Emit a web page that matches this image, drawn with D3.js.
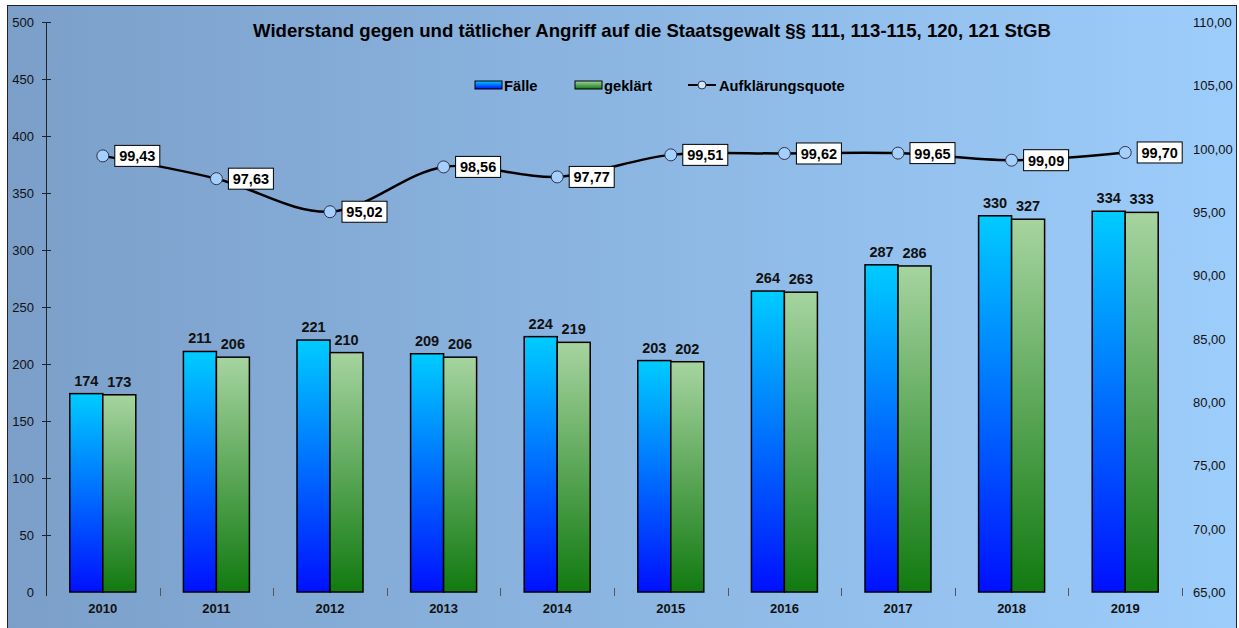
<!DOCTYPE html>
<html>
<head>
<meta charset="utf-8">
<script src="https://cdn.jsdelivr.net/npm/d3@7"></script>
<style>
  body { margin: 0; background: #fff; }
  svg { display: block; font-family: Arial, "Liberation Sans", sans-serif; }
</style>
</head>
<body>
<svg id="canvas" width="1239" height="628"></svg>
<script>
// chart data
let years = ["2010", "2011", "2012", "2013", "2014", "2015", "2016", "2017", "2018", "2019"];
let faelle = [174, 211, 221, 209, 224, 203, 264, 287, 330, 334];
let geklaert = [173, 206, 210, 206, 219, 202, 263, 286, 327, 333];
let quote = [99.43, 97.63, 95.02, 98.56, 97.77, 99.51, 99.62, 99.65, 99.09, 99.70];
let leftTicks = [0, 50, 100, 150, 200, 250, 300, 350, 400, 450, 500];
let rightTicks = [65, 70, 75, 80, 85, 90, 95, 100, 105, 110];

let canvas = d3.select("#canvas");

let plotLeft = 46, plotRight = 1182, plotTop = 22, plotBottom = 592;

let xScale = d3.scaleBand().domain(years).range([plotLeft, plotRight]);
let yLeft = d3.scaleLinear().domain([0, 500]).range([plotBottom, plotTop]);
let yRight = d3.scaleLinear().domain([65, 110]).range([plotBottom, plotTop]);

let fmt = v => d3.format(".2f")(v).replace(".", ",");

// gradients
let defs = canvas.append("defs");
let bg = defs.append("linearGradient").attr("id", "bg").attr("x1", 0).attr("x2", 1).attr("y1", 0).attr("y2", 0);
bg.append("stop").attr("offset", 0).attr("stop-color", "#7b9fc9");
bg.append("stop").attr("offset", 1).attr("stop-color", "#9dcdfb");

let gBlue = defs.append("linearGradient").attr("id", "gBlue").attr("x1", 0).attr("x2", 0).attr("y1", 0).attr("y2", 1);
gBlue.append("stop").attr("offset", 0).attr("stop-color", "#00ccff");
gBlue.append("stop").attr("offset", 1).attr("stop-color", "#0010ff");

let gGreen = defs.append("linearGradient").attr("id", "gGreen").attr("x1", 0).attr("x2", 0).attr("y1", 0).attr("y2", 1);
gGreen.append("stop").attr("offset", 0).attr("stop-color", "#a6d4a0");
gGreen.append("stop").attr("offset", 1).attr("stop-color", "#117a10");

// background + frame
canvas.append("rect")
    .attr("x", 7.5).attr("y", 5.5)
    .attr("width", 1229).attr("height", 630)
    .attr("fill", "url(#bg)")
    .attr("stroke", "#222").attr("stroke-width", 1);

// title
canvas.append("text")
    .attr("x", 652).attr("y", 37)
    .attr("text-anchor", "middle")
    .style("font-size", "18.6px").style("font-weight", "bold")
    .text("Widerstand gegen und tätlicher Angriff auf die Staatsgewalt §§ 111, 113-115, 120, 121 StGB");

// left axis
let leftAxis = d3.axisLeft(yLeft).tickValues(leftTicks).tickSize(0).tickPadding(12);
let gl = canvas.append("g").attr("transform", `translate(${plotLeft},0)`).call(leftAxis);
gl.select(".domain").remove();
gl.selectAll("text").style("font-size", "13px").attr("fill", "#111");
canvas.append("line")
    .attr("x1", plotLeft + 0.5).attr("x2", plotLeft + 0.5)
    .attr("y1", plotTop).attr("y2", plotBottom + 4)
    .attr("stroke", "#222");
canvas.append("g").selectAll("line")
    .data(leftTicks.filter(d => d > 0))
    .enter()
    .append("line")
    .attr("x1", plotLeft - 4).attr("x2", plotLeft + 5)
    .attr("y1", d => Math.round(yLeft(d)) + 0.5)
    .attr("y2", d => Math.round(yLeft(d)) + 0.5)
    .attr("stroke", "#222");

// right axis (labels only)
canvas.append("g").selectAll("text")
    .data(rightTicks)
    .enter()
    .append("text")
    .attr("x", 1193)
    .attr("y", d => yRight(d) + 5)
    .style("font-size", "13px")
    .attr("fill", "#111")
    .text(d => fmt(d));

// category axis: ticks between groups, labels
let boundaries = years.map(d => xScale(d)).concat([plotRight]).slice(1);
canvas.append("g").selectAll("line")
    .data(boundaries)
    .enter()
    .append("line")
    .attr("x1", d => Math.round(d) + 0.5).attr("x2", d => Math.round(d) + 0.5)
    .attr("y1", plotBottom - 4).attr("y2", plotBottom + 4)
    .attr("stroke", "#555");

canvas.append("g").selectAll("text")
    .data(years)
    .enter()
    .append("text")
    .attr("x", d => xScale(d) + xScale.bandwidth() / 2)
    .attr("y", 613)
    .attr("text-anchor", "middle")
    .style("font-size", "13px").style("font-weight", "bold")
    .attr("fill", "#111")
    .text(d => d);

// bars
let barW = 33;
let bars = canvas.append("g");
let series = [
    { values: faelle, fill: "url(#gBlue)", offset: -barW },
    { values: geklaert, fill: "url(#gGreen)", offset: 0 }
];
series.forEach(s => {
    bars.append("g").selectAll("rect")
        .data(s.values)
        .enter()
        .append("rect")
        .attr("x", (d, i) => xScale(years[i]) + xScale.bandwidth() / 2 + s.offset)
        .attr("y", d => yLeft(d))
        .attr("width", barW)
        .attr("height", d => plotBottom - yLeft(d))
        .attr("fill", s.fill)
        .attr("stroke", "#000").attr("stroke-width", 1.5);

    bars.append("g").selectAll("text")
        .data(s.values)
        .enter()
        .append("text")
        .attr("x", (d, i) => xScale(years[i]) + xScale.bandwidth() / 2 + s.offset + barW / 2)
        .attr("y", d => yLeft(d) - 8)
        .attr("text-anchor", "middle")
        .style("font-size", "14.5px").style("font-weight", "bold")
        .attr("fill", "#111")
        .text(d => d);
});

// line
let cx = i => xScale(years[i]) + xScale.bandwidth() / 2;
let line = d3.line()
    .x((d, i) => cx(i))
    .y(d => yRight(d))
    .curve(d3.curveCatmullRom.alpha(0.5));

canvas.append("path")
    .datum(quote)
    .attr("d", line)
    .attr("fill", "none")
    .attr("stroke", "#000").attr("stroke-width", 2.5);

let pts = canvas.append("g").selectAll("g")
    .data(quote)
    .enter()
    .append("g")
    .attr("transform", (d, i) => `translate(${cx(i)},${yRight(d)})`);

pts.append("rect")
    .attr("x", 12).attr("y", -10.5)
    .attr("width", 45).attr("height", 21)
    .attr("fill", "#fff")
    .attr("stroke", "#000").attr("stroke-width", 1);

pts.append("text")
    .attr("x", 34.5).attr("y", 5.5)
    .attr("text-anchor", "middle")
    .style("font-size", "14.5px").style("font-weight", "bold")
    .attr("fill", "#000")
    .text(d => fmt(d));

pts.append("circle")
    .attr("r", 6)
    .attr("fill", "#a3d0ff")
    .attr("stroke", "#334").attr("stroke-width", 1);

// legend
let legend = canvas.append("g").attr("transform", "translate(0,85)");
legend.append("rect").attr("x", 475).attr("y", -4).attr("width", 27).attr("height", 8)
    .attr("fill", "url(#gBlue)").attr("stroke", "#000").attr("stroke-width", 1);
legend.append("text").attr("x", 504).attr("y", 5.5)
    .style("font-size", "14.7px").style("font-weight", "bold").text("Fälle");
legend.append("rect").attr("x", 575).attr("y", -4).attr("width", 27).attr("height", 8)
    .attr("fill", "url(#gGreen)").attr("stroke", "#000").attr("stroke-width", 1);
legend.append("text").attr("x", 604).attr("y", 5.5)
    .style("font-size", "14.7px").style("font-weight", "bold").text("geklärt");
legend.append("line").attr("x1", 688).attr("x2", 716).attr("y1", 0).attr("y2", 0)
    .attr("stroke", "#000").attr("stroke-width", 2);
legend.append("circle").attr("cx", 702).attr("cy", 0).attr("r", 4)
    .attr("fill", "#cfe6ff").attr("stroke", "#334");
legend.append("text").attr("x", 719).attr("y", 5.5)
    .style("font-size", "14.7px").style("font-weight", "bold").text("Aufklärungsquote");
</script>
</body>
</html>
